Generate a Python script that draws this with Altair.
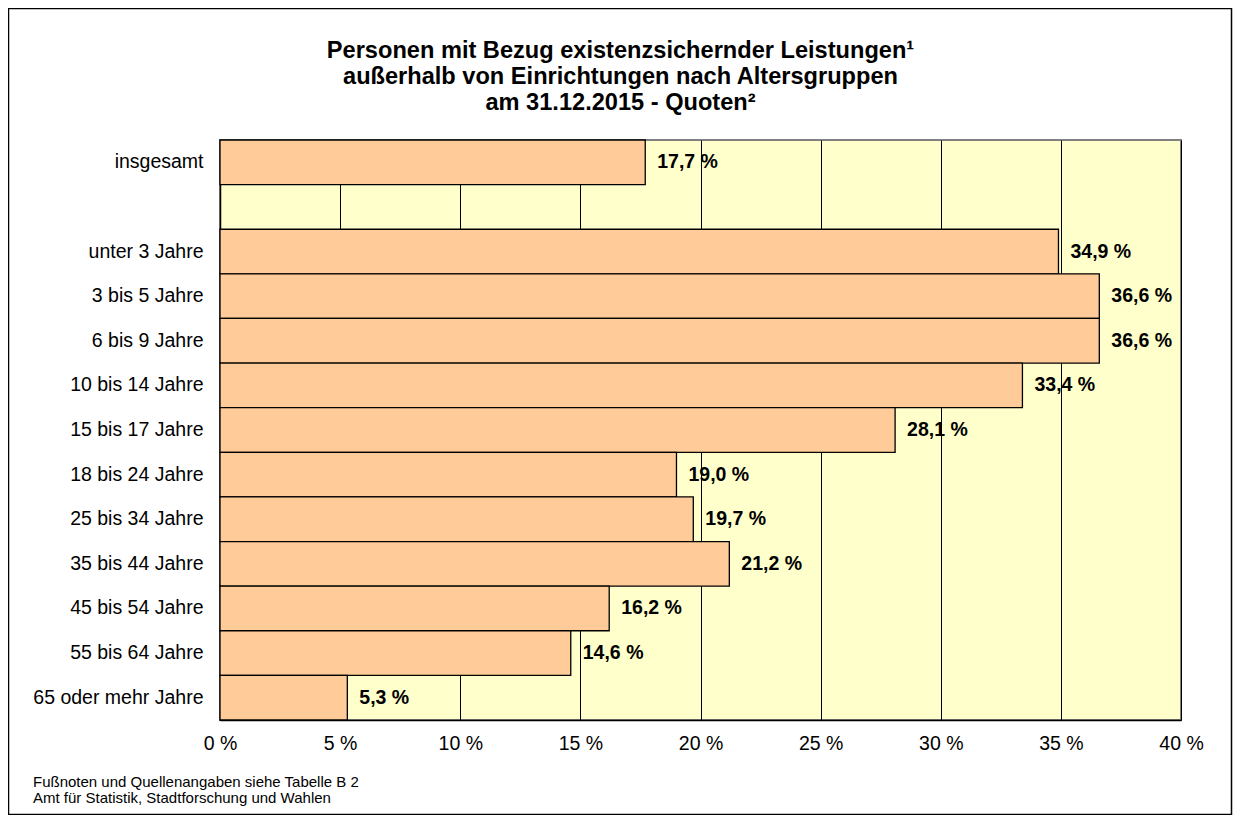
import altair as alt
import pandas as pd

# ---------------- data ----------------
categories = [
    "insgesamt", " ", "unter 3 Jahre", "3 bis 5 Jahre", "6 bis 9 Jahre",
    "10 bis 14 Jahre", "15 bis 17 Jahre", "18 bis 24 Jahre", "25 bis 34 Jahre",
    "35 bis 44 Jahre", "45 bis 54 Jahre", "55 bis 64 Jahre", "65 oder mehr Jahre",
]
bar_groups = [
    "insgesamt", "unter 3 Jahre", "3 bis 5 Jahre", "6 bis 9 Jahre",
    "10 bis 14 Jahre", "15 bis 17 Jahre", "18 bis 24 Jahre", "25 bis 34 Jahre",
    "35 bis 44 Jahre", "45 bis 54 Jahre", "55 bis 64 Jahre", "65 oder mehr Jahre",
]
quotes = [17.7, 34.9, 36.6, 36.6, 33.4, 28.1, 19.0, 19.7, 21.2, 16.2, 14.6, 5.3]
x_ticks = [0, 5, 10, 15, 20, 25, 30, 35, 40]
title_lines = [
    "Personen mit Bezug existenzsichernder Leistungen\u00b9",
    "außerhalb von Einrichtungen nach Altersgruppen",
    "am 31.12.2015 - Quoten\u00b2",
]
footnotes = [
    "Fußnoten und Quellenangaben siehe Tabelle B 2",
    "Amt für Statistik, Stadtforschung und Wahlen",
]

df = pd.DataFrame({"Gruppe": bar_groups, "Quote": quotes})

FONT = "Liberation Sans"
W, H = 961, 580

y_enc = alt.Y(
    "Gruppe:N",
    scale=alt.Scale(domain=categories, paddingInner=0, paddingOuter=0),
    axis=alt.Axis(
        title=None, labelFontSize=19.5, labelPadding=17, ticks=False,
        domain=True, domainColor="black", domainWidth=1.5,
        labelColor="black", labelFont=FONT, labelLimit=400,
    ),
)
x_enc = alt.X(
    "Quote:Q",
    scale=alt.Scale(domain=[0, 40], nice=False),
    axis=alt.Axis(
        title=None, values=x_ticks, labelExpr="datum.value + ' %'",
        grid=True, gridColor="black", gridWidth=1, gridOpacity=1,
        ticks=False, domain=True, domainColor="black", domainWidth=1.5,
        labelFontSize=19.5, labelPadding=14, labelFlush=False,
        labelColor="black", labelFont=FONT,
    ),
)

base = alt.Chart(df)

bars = base.mark_bar(fill="#FFCC99", stroke="black", strokeWidth=1.3).encode(
    x=x_enc, y=y_enc
)

labels = base.transform_calculate(
    label="replace(format(datum.Quote, '.1f'), '.', ',') + ' %'"
).mark_text(
    align="left", baseline="middle", dx=12, fontSize=19.5,
    fontWeight="bold", font=FONT, color="black",
).encode(x=x_enc, y=y_enc, text="label:N")

border = alt.Chart(alt.Data(values=[{}])).mark_rect(
    fillOpacity=0, stroke="black", strokeWidth=1.5, clip=False
).encode(
    x=alt.value(-211.5), x2=alt.value(1011.5),
    y=alt.value(-131.5), y2=alt.value(674.5),
)

foot = alt.Chart(alt.Data(values=[{}])).mark_text(
    align="left", baseline="alphabetic", fontSize=15, font=FONT,
    lineHeight=16, color="black", clip=False,
).encode(x=alt.value(-187), y=alt.value(647), text=alt.value(footnotes))

chart = alt.layer(border, bars, labels, foot).properties(
    width=W,
    height=H,
    background="white",
    padding={"left": 212, "top": 132, "right": 52, "bottom": 95},
    autosize=alt.AutoSizeParams(type="none"),
    title=alt.Title(
        text=title_lines, fontSize=23.6, fontWeight="bold", font=FONT,
        lineHeight=26, anchor="middle", dx=-80, offset=0, dy=107,
        color="black",
    ),
).configure_view(
    fill="#FFFFCC", stroke="#808080", strokeWidth=2
)

chart.save("out.html", embed_options={"renderer": "svg", "actions": False})
